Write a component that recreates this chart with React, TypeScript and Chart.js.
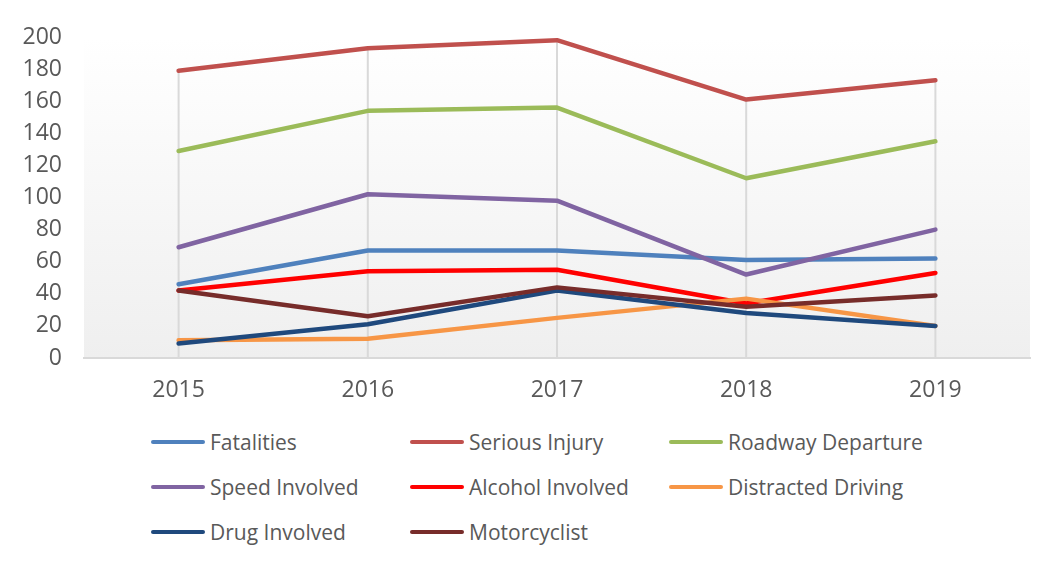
import React, { useEffect, useRef } from "react";
import { Chart, registerables } from "chart.js";

Chart.register(...registerables);

const years = ["2015", "2016", "2017", "2018", "2019"];
const fatalities = [46, 67, 67, 61, 62];
const seriousInjury = [179, 193, 198, 161, 173];
const roadwayDeparture = [129, 154, 156, 112, 135];
const speedInvolved = [69, 102, 98, 52, 80];
const alcoholInvolved = [42, 54, 55, 34, 53];
const distractedDriving = [11, 12, 25, 37, 20];
const drugInvolved = [9, 21, 42, 28, 20];
const motorcyclist = [42, 26, 44, 32, 39];

const seriesNames = [
  "Fatalities",
  "Serious Injury",
  "Roadway Departure",
  "Speed Involved",
  "Alcohol Involved",
  "Distracted Driving",
  "Drug Involved",
  "Motorcyclist",
];
const seriesValues = [
  fatalities,
  seriousInjury,
  roadwayDeparture,
  speedInvolved,
  alcoholInvolved,
  distractedDriving,
  drugInvolved,
  motorcyclist,
];
const seriesColors = [
  "#4f81bd",
  "#c0504d",
  "#9bbb59",
  "#8064a2",
  "#ff0000",
  "#f79646",
  "#1f497d",
  "#772c2a",
];

const FONT = "'Open Sans', 'DejaVu Sans', sans-serif";
const TEXT_COLOR = "#595959";

const plotBackground = {
  id: "plotBackground",
  beforeDraw(chart: any) {
    const { ctx, chartArea } = chart;
    if (!chartArea) return;
    const g = ctx.createLinearGradient(0, chartArea.top, 0, chartArea.bottom);
    g.addColorStop(0, "#ffffff");
    g.addColorStop(1, "#efefef");
    ctx.save();
    ctx.fillStyle = g;
    ctx.fillRect(chartArea.left, chartArea.top, chartArea.right - chartArea.left, chartArea.bottom - chartArea.top);
    ctx.restore();
  },
};

const dropLines = {
  id: "dropLines",
  beforeDatasetsDraw(chart: any) {
    const { ctx, chartArea } = chart;
    const metas = chart.getSortedVisibleDatasetMetas();
    if (!metas.length) return;
    const n = metas[0].data.length;
    ctx.save();
    ctx.strokeStyle = "#d9d9d9";
    ctx.lineWidth = 2;
    for (let i = 0; i < n; i++) {
      let minY = Infinity;
      let x = 0;
      for (const m of metas) {
        const p = m.data[i];
        if (p && p.y < minY) {
          minY = p.y;
          x = p.x;
        }
      }
      ctx.beginPath();
      ctx.moveTo(x, minY);
      ctx.lineTo(x, chartArea.bottom);
      ctx.stroke();
    }
    ctx.restore();
  },
};

function ChartCanvas() {
  const ref = useRef<HTMLCanvasElement | null>(null);
  useEffect(() => {
    if (!ref.current) return;
    const chart = new Chart(ref.current, {
      type: "line",
      data: {
        labels: years,
        datasets: seriesNames.map((name, i) => ({
          label: name,
          data: seriesValues[i],
          borderColor: seriesColors[i],
          backgroundColor: seriesColors[i],
          borderWidth: 4.5,
          borderCapStyle: "round" as const,
          borderJoinStyle: "round" as const,
          pointRadius: 0,
          pointHoverRadius: 0,
          tension: 0,
          fill: false,
          order: -i,
        })),
      },
      options: {
        responsive: false,
        animation: false,
        events: [],
        layout: { padding: { top: 29, right: 18, left: 0, bottom: 0 } },
        plugins: {
          legend: { display: false },
          tooltip: { enabled: false },
        },
        scales: {
          x: {
            offset: true,
            grid: { display: false, drawTicks: false },
            border: { display: true, color: "#d9d9d9", width: 2 },
            ticks: {
              color: TEXT_COLOR,
              font: { family: FONT, size: 23 },
              padding: 19,
              maxRotation: 0,
            },
            afterFit(scale: any) {
              scale.height = 52;
            },
          },
          y: {
            min: 0,
            max: 200,
            grid: { display: false, drawTicks: false },
            border: { display: false },
            ticks: {
              stepSize: 20,
              color: TEXT_COLOR,
              font: { family: FONT, size: 23 },
              padding: 22,
            },
            afterFit(scale: any) {
              scale.width = 76;
              scale.paddingTop = 0;
              scale.paddingBottom = 0;
            },
          },
        },
      },
      plugins: [plotBackground, dropLines],
    });
    return () => chart.destroy();
  }, []);
  return (
    <canvas
      ref={ref}
      width={1040}
      height={402}
      style={{ position: "absolute", left: 0, top: 0, width: 1040, height: 402 }}
    />
  );
}

export default function App() {
  return (
    <div
      style={{
        position: "relative",
        width: 1044,
        height: 553,
        marginLeft: -1,
        marginTop: -1,
        border: "1px solid #d9d9d9",
        borderBottom: "none",
        background: "#ffffff",
        fontFamily: FONT,
      }}
    >
      <ChartCanvas />
      {seriesNames.map((name, i) => {
        const col = i % 3;
        const row = Math.floor(i / 3);
        return (
          <div
            key={name}
            style={{
              position: "absolute",
              left: 143 + col * 259,
              top: 434 + row * 45 - 15,
              height: 30,
              display: "flex",
              alignItems: "center",
              whiteSpace: "nowrap",
            }}
          >
            <span
              style={{
                display: "inline-block",
                width: 54,
                height: 4,
                borderRadius: 2,
                background: seriesColors[i],
                marginRight: 5,
              }}
            />
            <span style={{ fontSize: 21, color: TEXT_COLOR, lineHeight: "30px" }}>{name}</span>
          </div>
        );
      })}
    </div>
  );
}
